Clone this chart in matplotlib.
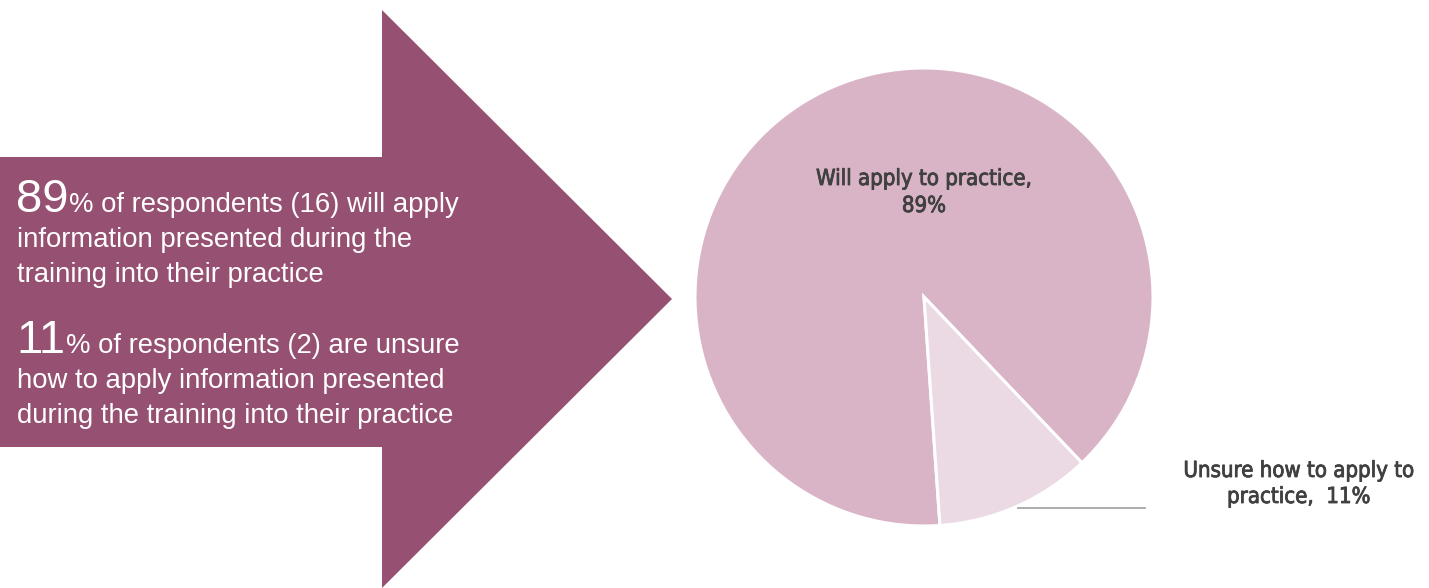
import matplotlib
matplotlib.use("Agg")
import matplotlib.pyplot as plt
from matplotlib.patches import Polygon
from matplotlib import font_manager
import matplotlib.patheffects as pe

# ---- data ----
categories = ["Will apply to practice", "Unsure how to apply to practice"]
values = [89, 11]
counts = [16, 2]
slice_colors = ["#D9B4C7", "#EBD9E3"]
arrow_color = "#955072"
text_dark = "#404040"

W, H = 1429, 588
fig = plt.figure(figsize=(W / 100, H / 100), dpi=100)
ax = fig.add_axes([0, 0, 1, 1])

def Y(y_img):
    return H - y_img

# arrow shape
arrow = Polygon([(0, Y(157)), (382, Y(157)), (382, Y(10)), (672, Y(299)),
                 (382, Y(588)), (382, Y(447)), (0, Y(447))],
                closed=True, facecolor=arrow_color, edgecolor="none")
ax.add_patch(arrow)

entries = font_manager.fontManager.ttflist
has_cond = any(f.name == "DejaVu Sans" and f.stretch in ("condensed", "semi-condensed")
               for f in entries)
body_font = "Liberation Sans"

# pie
ax.pie(values, colors=slice_colors, startangle=274, counterclock=False,
       center=(924, Y(297)), radius=229, frame=True,
       wedgeprops=dict(edgecolor="white", linewidth=2.2))
ax.set_xlim(0, W)
ax.set_ylim(0, H)
ax.set_aspect("auto")
ax.axis("off")

lab_kw = dict(fontsize=15.9, color=text_dark, family="DejaVu Sans",
              fontstretch="condensed" if has_cond else "normal",
              path_effects=[pe.withStroke(linewidth=0.6, foreground=text_dark)])
if not has_cond:
    lab_kw["fontsize"] = 14.5
ax.text(924, Y(185), f"{categories[0]},", ha="center", va="baseline", **lab_kw)
ax.text(924, Y(212), f"{values[0]}%", ha="center", va="baseline", **lab_kw)
ax.text(1299, Y(477), "Unsure how to apply to", ha="center", va="baseline", **lab_kw)
ax.text(1299, Y(503), "practice,  " + f"{values[1]}%", ha="center", va="baseline", **lab_kw)
ax.plot([1018, 1145], [Y(508), Y(508)], color="#A6A6A6", lw=1.3)

# left text
fig.canvas.draw()
r = fig.canvas.get_renderer()

def mixed(big, rest_lines, base_y):
    t = ax.text(16, Y(base_y), big, fontsize=34, color="white", family=body_font,
                ha="left", va="baseline")
    bb = t.get_window_extent(renderer=r)
    ax.text(bb.x1 + 1, Y(base_y), rest_lines[0], fontsize=19.8, color="white",
            family=body_font, ha="left", va="baseline")
    for i, line in enumerate(rest_lines[1:], start=1):
        ax.text(17, Y(base_y + 35 * i), line, fontsize=19.8, color="white",
                family=body_font, ha="left", va="baseline")

mixed(f"{values[0]}", [f"% of respondents ({counts[0]}) will apply",
                       "information presented during the",
                       "training into their practice"], 212)
mixed(f"{values[1]}", [f"% of respondents ({counts[1]}) are unsure",
                       "how to apply information presented",
                       "during the training into their practice"], 353)

fig.savefig("out.png", dpi=100, facecolor="white")
